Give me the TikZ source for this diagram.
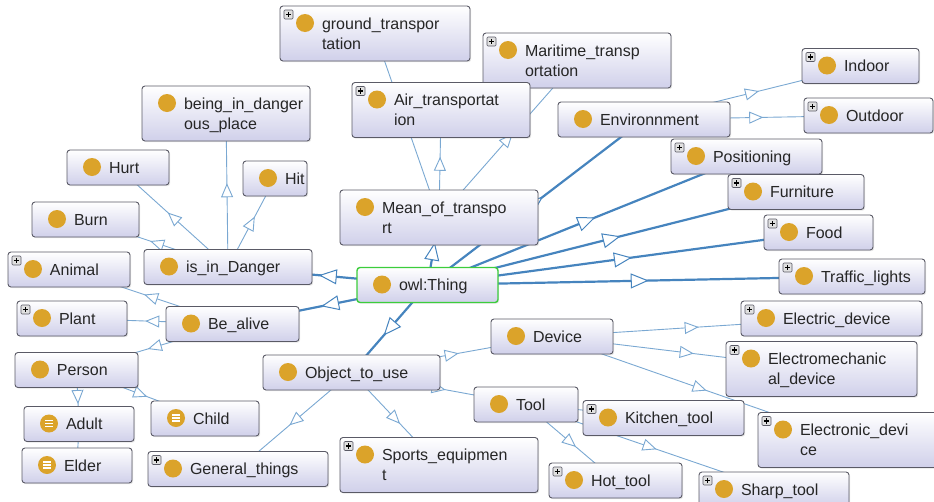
\documentclass[tikz,border=0pt]{standalone}
\usepackage{fontspec}
\setmainfont{Liberation Sans}
\usetikzlibrary{backgrounds, decorations.markings, arrows.meta, shadows}
\hyphenpenalty=10000
\exhyphenpenalty=10000

\definecolor{dotc}{RGB}{219,163,42}
\definecolor{boxbot}{RGB}{208,208,234}
\definecolor{rimc}{RGB}{90,90,102}
\definecolor{thingc}{RGB}{60,205,60}
\definecolor{edgec}{RGB}{70,132,190}
\definecolor{thinc}{RGB}{122,168,210}

\begin{document}
\begin{tikzpicture}[x=1pt, y=-1pt]
  %tikz%
  % Ontologie, classes
  %tikz%
    \tikzset{
      cls/.style={rectangle, rounded corners=3pt, draw=rimc, line width=0.9pt,
        top color=white, bottom color=boxbot,
        drop shadow={opacity=0.2, shadow xshift=1.2pt, shadow yshift=-1.2pt},
        inner xsep=0pt, inner ysep=8pt, text width=#1, minimum height=35pt,
        align=left, font=\fontsize{16}{20}\selectfont, text=black!85,
        execute at begin node={\leftskip=42pt\rule{0pt}{15pt}},
        execute at end node={\rule[-4pt]{0pt}{4pt}},
        path picture={\fill[dotc] ([shift={(25,17)}]path picture bounding box.north west) circle (9pt);}},
      more/.style={path picture={
        \fill[dotc] ([shift={(25,17)}]path picture bounding box.north west) circle (9pt);
        \draw[rimc, fill=black!12, line width=0.6pt, rounded corners=1pt]
          ([shift={(4,4)}]path picture bounding box.north west) rectangle
          ([shift={(13,13)}]path picture bounding box.north west);
        \draw[black, line width=1.1pt, sharp corners]
          ([shift={(5.8,8.5)}]path picture bounding box.north west) -- ++(5.4,0)
          ([shift={(8.5,5.8)}]path picture bounding box.north west) -- ++(0,5.4);}},
      eqv/.style={path picture={
        \fill[dotc] ([shift={(25,17)}]path picture bounding box.north west) circle (9pt);
        \draw[white, line width=1.2pt, sharp corners] ([shift={(21,14)}]path picture bounding box.north west)
          -- ++(8,0) ++(-8,3) -- ++(8,0) ++(-8,3) -- ++(8,0);}},
      thk/.style={edgec, line width=2.2pt, postaction={decorate},
        decoration={markings, mark=at position 0.5 with
          {\arrow[xshift=9pt]{Triangle[length=18pt, width=15pt, fill=white, line width=1pt]}}}},
      thn/.style={thinc, line width=0.9pt, postaction={decorate},
        decoration={markings, mark=at position 0.5 with
          {\arrow[xshift=7pt]{Triangle[length=14pt, width=12pt, fill=white, line width=0.9pt]}}}}
    }
    \useasboundingbox (0,0) rectangle (934,501);

    % transport
    \node[cls=190, more] (gtr) at (375,33.5) {ground\_transpor\\tation};
    \node[cls=188, more] (mtr) at (577,60.5) {Maritime\_transp\\ortation};
    \node[cls=178, more] (atr) at (441,110) {Air\_transportat\\ion};
    \node[cls=198] (mot) at (439,217.5) {Mean\_of\_transpo\\rt};

    % danger
    \node[cls=168] (bdp) at (226,113.5) {being\_in\_danger\\ous\_place};
    \node[cls=102] (hurt) at (118,167.5) {Hurt};
    \node[cls=64] (hit) at (275,178.5) {Hit};
    \node[cls=107] (burn) at (85.5,219.5) {Burn};
    \node[cls=168] (iid) at (228,267) {is\_in\_Danger};

    % environment
    \node[cls=172] (env) at (644,119.5) {Environnment};
    \node[cls=117, more] (indoor) at (860.5,66) {Indoor};
    \node[cls=129, more] (outdoor) at (868.5,115.5) {Outdoor};
    \node[cls=151, more] (pos) at (746.5,156.5) {Positioning};
    \node[cls=136, more] (furn) at (796,192) {Furniture};
    \node[cls=109, more] (food) at (818.5,232.5) {Food};
    \node[cls=146, more] (traffic) at (852,276.5) {Traffic\_lights};

    % devices and tools
    \node[cls=181, more] (edev) at (831.5,318.5) {Electric\_device};
    \node[cls=191, more] (emdev) at (821.5,369) {Electromechanic\\al\_device};
    \node[cls=180, more] (etdev) at (848,440) {Electronic\_devi\\ce};
    \node[cls=161, more] (ktool) at (663.5,418) {Kitchen\_tool};
    \node[cls=150, more] (stool) at (774,489.5) {Sharp\_tool};
    \node[cls=133, more] (htool) at (615.5,480.5) {Hot\_tool};
    \node[cls=104] (tool) at (526,404.5) {Tool};
    \node[cls=122] (dev) at (552,336.5) {Device};
    \node[cls=177] (otu) at (351.5,372.5) {Object\_to\_use};
    \node[cls=198, more] (sport) at (439,465) {Sports\_equipmen\\t};
    \node[cls=180, more] (gen) at (238,469) {General\_things};

    % root
    \node[cls=141, draw=thingc, line width=1.4pt] (thing) at (427.5,285) {owl:Thing};

    % living
    \node[cls=122, more] (animal) at (69,269.5) {Animal};
    \node[cls=110, more] (plant) at (72,318.5) {Plant};
    \node[cls=133] (alive) at (232.5,324) {Be\_alive};
    \node[cls=123] (person) at (76.5,370) {Person};
    \node[cls=110, eqv] (adult) at (79,424) {Adult};
    \node[cls=108, eqv] (child) at (205,418.5) {Child};
    \node[cls=110, eqv] (elder) at (77,465.5) {Elder};

    \begin{scope}[on background layer]
      \foreach \c in {iid, alive, mot, env, pos, furn, food, traffic, otu}{
        \draw[thk] (thing.center) -- (\c.center);
      }
      \foreach \c in {hurt, hit, bdp, burn}{
        \draw[thn] (iid.center) -- (\c.center);
      }
      \foreach \c in {animal, plant, person}{
        \draw[thn] (alive.center) -- (\c.center);
      }
      \draw[thn] (person.center) -- (adult.center);
      \draw[thn] (person.center) -- (child.center);
      \draw[thinc, line width=0.9pt] (adult.center) -- (elder.center);
      \foreach \c in {atr, gtr, mtr}{
        \draw[thn] (mot.center) -- (\c.center);
      }
      \draw[thn] (env.center) -- (indoor.center);
      \draw[thn] (env.center) -- (outdoor.center);
      \foreach \c in {dev, tool, sport, gen}{
        \draw[thn] (otu.center) -- (\c.center);
      }
      \foreach \c in {edev, emdev, etdev}{
        \draw[thn] (dev.center) -- (\c.center);
      }
      \foreach \c in {ktool, htool, stool}{
        \draw[thn] (tool.center) -- (\c.center);
      }
    \end{scope}

  \end{tikzpicture}
\end{document}
